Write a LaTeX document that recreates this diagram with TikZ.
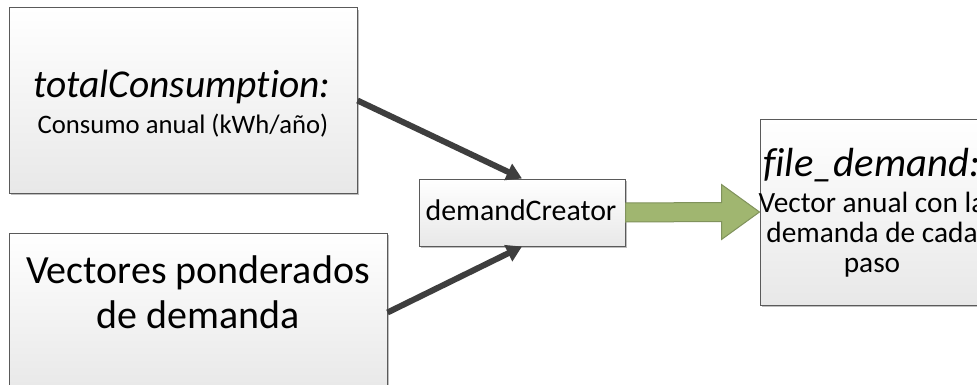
\documentclass[tikz,border=0pt]{standalone}
\usepackage{fontspec}
\setmainfont{Carlito}[Ligatures=NoCommon]
\usetikzlibrary{arrows.meta,calc,shadows}

\definecolor{boxline}{RGB}{90,90,90}
\definecolor{boxlow}{RGB}{232,232,232}
\definecolor{darkflow}{RGB}{62,62,62}
\definecolor{olivefill}{RGB}{160,182,112}
\definecolor{oliveline}{RGB}{128,146,92}

\tikzset{
  procbox/.style={rectangle, draw=boxline, line width=0.75pt, inner sep=0pt,
    top color=white, bottom color=boxlow,
    drop shadow={shadow xshift=1.2pt, shadow yshift=-1.2pt, opacity=0.25, fill=black}},
  feed/.style={draw=darkflow, line width=4.5pt,
    -{Triangle[length=11.5pt, width=13pt]}},
  bigflow/.style={fill=olivefill, draw=oliveline, line width=0.75pt, line join=miter},
  txt/.style={inner sep=0pt, anchor=base, text=black},
}

\begin{document}
\begin{tikzpicture}[x=0.75pt, y=-0.75pt]
  \useasboundingbox (0,0) rectangle (977,385);
  \clip (0,0) rectangle (977,385);
  \fill[white] (0,0) rectangle (977,385);

  % boxes
  \node[procbox, minimum width=261pt, minimum height=138.75pt] (cons) at (183,100.5) {};
  \node[procbox, minimum width=283.5pt, minimum height=119.25pt] (weights) at (198,312.5) {};
  \node[procbox, minimum width=154.5pt, minimum height=50.25pt] (creator) at (522,212.5) {};
  \node[procbox, minimum width=172.5pt, minimum height=139.5pt] (out) at (875,212) {};

  % texts
  \node[txt, font=\fontsize{29.6pt}{34pt}\selectfont\itshape] (consT) at (182,97) {totalConsumption:};
  \node[txt, font=\fontsize{20pt}{24pt}\selectfont] (consB) at (183,133) {Consumo anual (kWh/año)};
  \node[txt, font=\fontsize{30pt}{36pt}\selectfont] (weightsA) at (198,283) {Vectores ponderados};
  \node[txt, font=\fontsize{30pt}{36pt}\selectfont] (weightsB) at (198,328) {de demanda};
  \node[txt, font=\fontsize{22.4pt}{26pt}\selectfont] (creatorT) at (521,220) {demandCreator};
  \node[txt, anchor=base west, font=\fontsize{30.5pt}{35pt}\selectfont\itshape] (outT) at (763,176) {file\_demand:};
  \node[txt, font=\fontsize{22pt}{26pt}\selectfont] (outA) at (872,212) {Vector anual con la};
  \node[txt, font=\fontsize{22pt}{26pt}\selectfont] (outB) at (872,242) {demanda de cada};
  \node[txt, font=\fontsize{22pt}{26pt}\selectfont] (outC) at (872,272) {paso};

  % inputs into the creator
  \draw[feed] (cons.east) -- (creator.north);
  \draw[feed] (weights.east) -- (creator.south);

  % block arrow to the output
  \draw[bigflow]
    ($(creator.east)+(0,-9.5)$) -- ($(out.west)+(-38,-9.5)$) --
    ($(out.west)+(-38,-27.5)$) -- (out.west) --
    ($(out.west)+(-38,27.5)$) -- ($(out.west)+(-38,9.5)$) --
    ($(creator.east)+(0,9.5)$) -- cycle;
\end{tikzpicture}
\end{document}
